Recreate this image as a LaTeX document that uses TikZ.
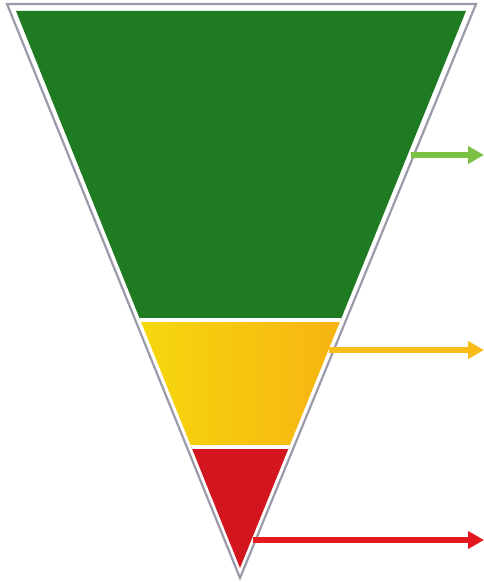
\documentclass[tikz,border=0pt]{standalone}
\usetikzlibrary{arrows.meta}
\definecolor{dgreen}{HTML}{1E7B22}
\definecolor{lgreen}{HTML}{7CC143}
\definecolor{ylw}{HTML}{F6D90C}
\definecolor{orng}{HTML}{F7B212}
\definecolor{ylwarrow}{HTML}{F8BD18}
\definecolor{rd}{HTML}{D3161D}
\definecolor{rdarrow}{HTML}{E2191F}
\definecolor{outl}{HTML}{9A9AAA}
\tikzset{
  pointer/.style={line width=5.5pt, -{Triangle[length=16pt,width=17pt]}},
  sep/.style={white, line width=4pt}
}
\begin{document}
\begin{tikzpicture}[x=1pt,y=-1pt]
\useasboundingbox (0,0) rectangle (484,583);
% outer outline
\coordinate (OL) at (7,4);
\coordinate (OR) at (476,4);
\coordinate (OA) at (240,578);
\draw[outl, line width=2.2pt, line join=miter] (OL) -- (OR) -- (OA) -- cycle;
% inner triangle
\coordinate (IL) at (16,11);
\coordinate (IR) at (466,11);
\coordinate (IA) at (240,568);
\begin{scope}
  \clip (IL) -- (IR) -- (IA) -- cycle;
  \fill[dgreen] (0,0) rectangle (484,320);
  \shade[left color=ylw, right color=orng] (130,320) rectangle (345,447);
  \fill[rd] (0,447) rectangle (484,583);
  \draw[sep] (0,320) -- (484,320);
  \draw[sep] (0,447) -- (484,447);
\end{scope}
% arrows
\coordinate (g1) at (411,155);
\coordinate (g2) at (484,155);
\coordinate (y1) at (329,350);
\coordinate (y2) at (484,350);
\coordinate (r1) at (253,540);
\coordinate (r2) at (484,540);
\draw[pointer, lgreen] (g1) -- (g2);
\draw[pointer, ylwarrow] (y1) -- (y2);
\draw[pointer, rdarrow] (r1) -- (r2);
\end{tikzpicture}
\end{document}
